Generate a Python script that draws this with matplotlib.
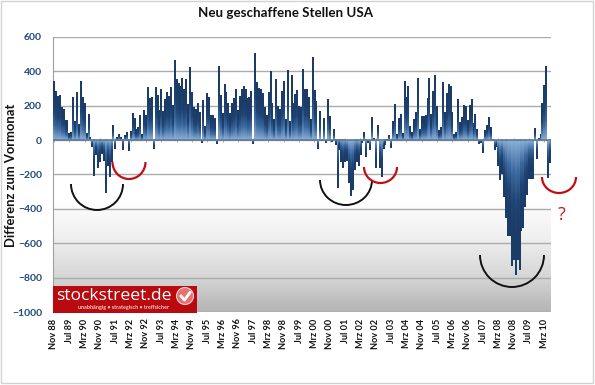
import matplotlib
matplotlib.use('Agg')
import matplotlib.pyplot as plt
from matplotlib.patches import Arc, Rectangle, Circle
from matplotlib.colors import LinearSegmentedColormap
import numpy as np

plt.rcParams['font.family'] = ['Lato', 'DejaVu Sans']

# Data, monthly, Nov 88 to Jun 10
values_88_96 = [340, 285, 255, 258, 190, 175, 115, 115, 35, 45,
                250, 110, 275, 90, 340, 245, 210, 40, 150, 15,
                -40, -210, -85, -160, -130, -80, -120, -310, -150, -215,
                -130, 85, -50, 15, 30, 15, -60, 25, 45, -65,
                50, 155, 125, 60, 70, 140, 30, 170, 140, 305,
                240, 245, -50, 305, 260, 170, 295, 165, 235, 275,
                255, 305, 200, 460, 350, 330, 310, 360, 295, 350,
                205, 420, 275, 190, 175, 215, 160, -15, 230, 80,
                270, 250, 145, 145, 125, -20, 430, 260, 155, 325]
values_96_03 = [275, 210, 155, 215, 240, 295, 170, 255, 295, 310,
                295, 240, 250, 280, -20, 505, 335, 300, 295, 270,
                190, 140, 275, 400, 210, 120, 350, 195, 180, 280,
                340, 120, 405, 105, 375, 215, 265, 290, 195, 190,
                410, 295, 295, 250, 120, 480, 290, 225, -50, 165,
                -5, 125, -15, 235, 135, -10, 60, -30, -280, -60,
                -130, -165, -130, -120, -250, -325, -290, -175, -130, -150,
                -85, -15, 45, -100, -15, -55, 130, 10, -160, 85]
values_03_10 = [-160, -215, -50, -30, 5, 25, -45, 105, 205, 30,
                125, 150, 35, 340, 250, 310, 80, 45, 120, 160,
                355, 60, 135, 135, 140, 240, 360, 150, 285, 375,
                195, 55, 75, 335, 160, 270, 325, 310, 160, 30,
                45, 235, 100, 130, 200, 195, 115, 200, 235, 95,
                150, 60, -20, -15, -75, 55, 85, 130, 70, 5,
                -55, -40, -150, -230, -200, -330, -455, -555, -555, -730,
                -700, -785, -700, -755, -530, -510, -390, -320, -225, -225,
                -225, 65, -110, 10, 30, 210, 315, 430, -220, -135]
values = values_88_96 + values_96_03 + values_03_10
months = np.arange(len(values))

tick_labels = ['Nov 88', 'Jul 89', 'Mrz 90', 'Nov 90', 'Jul 91', 'Mrz 92', 'Nov 92', 'Jul 93', 'Mrz 94',
               'Nov 94', 'Jul 95', 'Mrz 96', 'Nov 96', 'Jul 97', 'Mrz 98', 'Nov 98', 'Jul 99', 'Mrz 00',
               'Nov 00', 'Jul 01', 'Mrz 02', 'Nov 02', 'Jul 03', 'Mrz 04', 'Nov 04', 'Jul 05', 'Mrz 06',
               'Nov 06', 'Jul 07', 'Mrz 08', 'Nov 08', 'Jul 09', 'Mrz 10']
y_ticks = [600, 400, 200, 0, -200, -400, -600, -800, -1000]

W, H = 595, 385
fig = plt.figure(figsize=(W / 100, H / 100), dpi=100, facecolor='white')
ax = fig.add_axes([53 / W, (H - 312) / H, 498 / W, 275 / H])

# grey fade in the lower part of the plot area
bg_cmap = LinearSegmentedColormap.from_list('bg', ['#ffffff', '#f0f0f0', '#d8d8d8', '#b4b4b4'])
ax.imshow(np.linspace(0, 1, 256).reshape(-1, 1), cmap=bg_cmap, aspect='auto',
          extent=[0, 1, 0, 0.41], transform=ax.transAxes, zorder=0)

ax.set_axisbelow(True)
ax.yaxis.grid(color='#ababab', linewidth=1.0, zorder=1)

bars = ax.bar(months, values, width=0.92, color='none', zorder=3)

# each bar fades from light at the zero line to dark navy at its end
bar_cmap = LinearSegmentedColormap.from_list('bar', ['#8aaed6', '#3d6a9f', '#1f4474', '#1c3c68', '#1c3c68'])
for b, v in zip(bars, values):
    ax.imshow(np.linspace(0, 1, 64).reshape(-1, 1), cmap=bar_cmap, aspect='auto', origin='lower',
              extent=[b.get_x(), b.get_x() + b.get_width(), 0, v], zorder=3, interpolation='bilinear')

ax.set_xlim(-0.5, len(values) - 0.5)
ax.set_ylim(-1000, 600)
ax.set_yticks(y_ticks)
ax.set_xticks(months[::8])
ax.set_xticklabels(tick_labels, rotation=90, fontsize=6.6, fontweight='bold', color='#111111')
for lab in ax.get_xticklabels():
    lab.set_y(-0.024)
ax.tick_params(axis='x', length=0, pad=0)
ax.tick_params(axis='y', length=0, pad=8, labelsize=7.5, labelcolor='#1f497d')
for lab in ax.get_yticklabels():
    lab.set_fontweight('bold')

for side in ['top', 'right', 'bottom']:
    ax.spines[side].set_visible(False)
ax.spines['left'].set_color('#a0a0a0')
ax.axhline(0, color='#5d7390', linewidth=1.1, zorder=4)
ax.plot(months[::8], np.zeros(len(months[::8])), linestyle='none', marker='|', markersize=3,
        color='#a8a8a8', markeredgewidth=0.7, zorder=2)

# overlay in picture pixels for the hand drawn marks, logo and frame
ov = fig.add_axes([0, 0, 1, 1], facecolor='none')
ov.set_xlim(0, W)
ov.set_ylim(H, 0)
ov.axis('off')

ov.add_patch(Rectangle((1, 1), 592, 382, fill=False, edgecolor='#d2d2d2', linewidth=1.0))

black_arcs = [(97, 184, 52, 52), (346, 180, 52, 50), (512, 255, 64, 64)]
red_arcs = [(129, 162, 33, 34), (380.5, 167, 33, 32), (559, 177, 34, 32)]
for cx, cy, w, h in black_arcs:
    ov.add_patch(Arc((cx, cy), w, h, theta1=0, theta2=180, color='#111111', linewidth=1.4, zorder=6))
for cx, cy, w, h in red_arcs:
    ov.add_patch(Arc((cx, cy), w, h, theta1=0, theta2=180, color='#c00f12', linewidth=1.6, zorder=6))
ov.text(562, 215, '?', color='#c8171a', fontsize=13, ha='center', va='center', family='Open Sans')

ov.add_patch(Rectangle((53, 285.5), 144, 27, facecolor='#b90b0f', edgecolor='none', zorder=7))
ov.text(56, 296, 'stockstreet.de', color='white', fontsize=12.6, ha='left', va='center',
        family='Open Sans', zorder=8)
ov.text(124, 307.5, 'unabhängig • strategisch • treffsicher', color='#f0c8c8', fontsize=3.9,
        ha='center', va='center', fontweight='bold', zorder=8)
ov.add_patch(Circle((185, 296), 8.5, facecolor='#e8716f', edgecolor='#f3d0d0', linewidth=0.8, zorder=8))
ov.plot([181, 184.5, 190], [296, 300, 292.5], color='white', linewidth=2, zorder=9)

ov.text(285.5, 13, 'Neu geschaffene Stellen USA', fontsize=9.6, fontweight='bold', ha='center',
        va='center', color='#111111')
ov.text(11.5, 175, 'Differenz zum Vormonat', fontsize=9.4, fontweight='bold', rotation=90,
        ha='center', va='center', color='#111111')

fig.savefig('out.png', dpi=100)
